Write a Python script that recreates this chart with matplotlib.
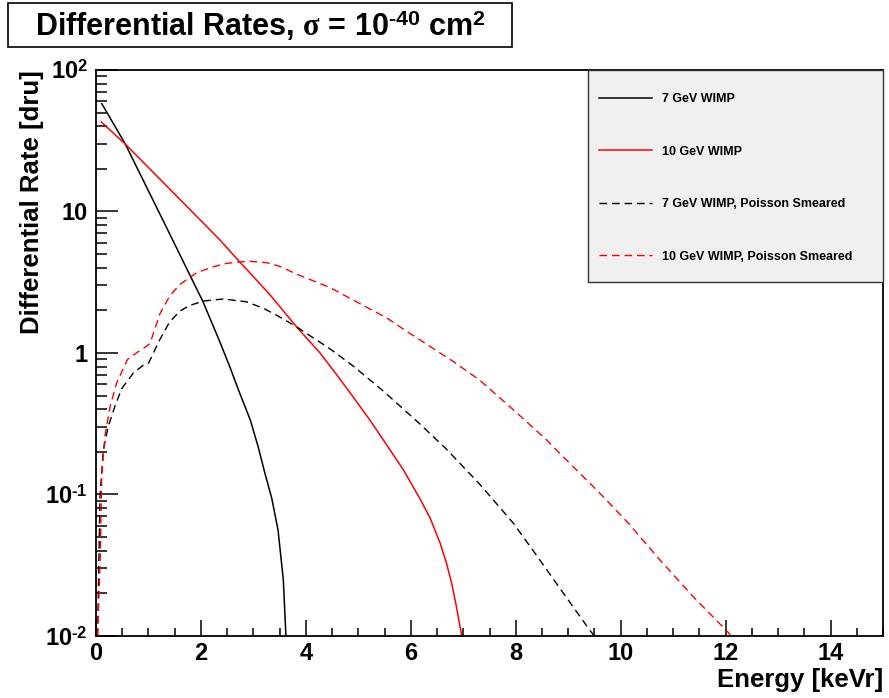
import matplotlib
matplotlib.use("Agg")
import matplotlib.pyplot as plt
from matplotlib.patches import Rectangle
from matplotlib.ticker import FixedLocator, MultipleLocator, LogLocator, NullFormatter

plt.rcParams['font.family'] = ['Liberation Sans', 'DejaVu Sans']
plt.rcParams['font.weight'] = 'bold'
plt.rcParams['mathtext.fontset'] = 'custom'
plt.rcParams['mathtext.rm'] = 'Liberation Sans:bold'
plt.rcParams['mathtext.bf'] = 'Liberation Sans:bold'
plt.rcParams['mathtext.it'] = 'Liberation Serif'

# recoil spectra, energy in keVr, rate in dru
e_7 = [0.11, 0.56, 1.33, 1.82, 2.04, 2.36, 2.55, 2.74, 2.94, 3.09, 3.22, 3.35, 3.47,
       3.57, 3.62]
r_7 = [57.8, 29.9, 7.9, 3.37, 2.3, 1.2, 0.8, 0.519, 0.337, 0.218, 0.141, 0.094, 0.056,
       0.025, 0.01]

e_10 = [0.1, 0.56, 2.1, 2.36, 2.74, 3.3, 3.83, 4.27, 4.59, 4.9, 5.22, 5.54, 5.86, 6.17,
        6.37, 6.56, 6.68, 6.78, 6.87, 6.97]
r_10 = [42.9, 29.9, 7.9, 6.3, 4.4, 2.62, 1.52, 1.0, 0.70, 0.49, 0.336, 0.224, 0.149,
        0.094, 0.068, 0.0452, 0.0327, 0.0235, 0.0161, 0.01]

e_7s = [0.03, 0.076, 0.14, 0.23, 0.36, 0.49, 0.71, 0.9, 1.0, 1.22, 1.4, 1.6, 1.79, 2.05,
        2.43, 2.87, 3.19, 3.44, 3.8, 4.46, 4.9, 5.48, 6.17, 6.68, 7.32, 7.95, 8.4, 8.78,
        9.41, 9.5]
r_7s = [0.01, 0.097, 0.206, 0.30, 0.42, 0.56, 0.72, 0.82, 0.845, 1.25, 1.65, 1.98, 2.17,
        2.33, 2.41, 2.3, 2.07, 1.85, 1.55, 1.07, 0.81, 0.537, 0.316, 0.209, 0.1175, 0.063,
        0.037, 0.0234, 0.011, 0.01]

e_10s = [0.03, 0.08, 0.11, 0.17, 0.27, 0.39, 0.6, 0.8, 0.97, 1.03, 1.22, 1.41, 1.6, 1.92,
         2.24, 2.49, 2.74, 2.93, 3.25, 3.5, 3.83, 4.46, 4.9, 5.54, 5.95, 6.17, 6.81, 7.32,
         7.95, 8.59, 8.87, 9.54, 10.15, 10.75, 11.38, 12.05, 12.1]
r_10s = [0.01, 0.035, 0.14, 0.26, 0.42, 0.61, 0.9, 1.02, 1.12, 1.17, 1.9, 2.55, 3.05, 3.7,
         4.07, 4.3, 4.4, 4.45, 4.35, 4.1, 3.6, 2.9, 2.37, 1.77, 1.40, 1.24, 0.87, 0.64,
         0.398, 0.243, 0.19, 0.108, 0.0625, 0.0344, 0.019, 0.0106, 0.01]

labels = ["7 GeV WIMP", "10 GeV WIMP", "7 GeV WIMP, Poisson Smeared",
          "10 GeV WIMP, Poisson Smeared"]
ytick_vals = [0.01, 0.1, 1, 10, 100]
ytick_text = [r"$10^{\text{-2}}$", r"$10^{\text{-1}}$", "1", "10", "$10^{2}$"]
xtick_vals = [0, 2, 4, 6, 8, 10, 12, 14]

W, H = 889, 698
fig = plt.figure(figsize=(W / 100, H / 100), dpi=100)
ax = fig.add_axes([96 / W, 1 - 636 / H, 787 / W, 566 / H])

dash = (5.5, 3.5)
ax.plot(e_7, r_7, color='black', lw=1.1, label=labels[0])
ax.plot(e_10, r_10, color='red', lw=1.1, label=labels[1])
ax.plot(e_7s, r_7s, color='black', lw=1.0, dashes=dash, label=labels[2])
ax.plot(e_10s, r_10s, color='red', lw=1.0, dashes=dash, label=labels[3])

ax.set_yscale('log')
ax.set_xlim(0, 15)
ax.set_ylim(0.01, 100)

ax.xaxis.set_major_locator(FixedLocator(xtick_vals))
ax.xaxis.set_minor_locator(MultipleLocator(0.5))
ax.set_xticklabels([str(v) for v in xtick_vals])
ax.set_yticks(ytick_vals)
ax.set_yticklabels(ytick_text)
ax.yaxis.set_minor_locator(LogLocator(base=10, subs=range(2, 10)))
ax.yaxis.set_minor_formatter(NullFormatter())

ax.tick_params(axis='x', which='major', direction='in', length=11.5, width=1.1,
               labelsize=17, pad=4, top=False)
ax.tick_params(axis='x', which='minor', direction='in', length=5.8, width=1.1, top=False)
ax.tick_params(axis='y', which='major', direction='in', length=16, width=1.1,
               labelsize=17, pad=6, right=False)
ax.tick_params(axis='y', which='minor', direction='in', length=8, width=1.1, right=False)
for s in ax.spines.values():
    s.set_linewidth(1.3)

fig.text(32 / W, 1 - 70 / H, "Differential Rate [dru]", rotation=90, ha='center',
         va='top', fontsize=18.5, fontweight='bold')
fig.text(883 / W, 1 - 687 / H, "Energy [keVr]", ha='right', va='baseline',
         fontsize=18.5, fontweight='bold')

# legend box drawn separately so it can be larger than its contents
ax.add_patch(Rectangle((0.6252, 0.6254), 0.3748, 0.3746, transform=ax.transAxes,
                       facecolor='#f0f0f0', edgecolor='#333333', lw=1.0, zorder=4.5,
                       clip_on=False))
leg = ax.legend(loc='upper left', bbox_to_anchor=(0.6252, 0.979), borderaxespad=0,
                fontsize=9, frameon=False, borderpad=0.88,
                labelspacing=3.25, handlelength=4.2, handletextpad=0.85)
for t in leg.get_texts():
    t.set_fontweight('bold')

fig.patches.append(Rectangle((7.5 / W, 1 - 47 / H), 504.5 / W, 44 / H,
                             transform=fig.transFigure, facecolor='white',
                             edgecolor='black', lw=1.2))
fig.text(260 / W, 1 - 25.5 / H,
         r"Differential Rates, $\sigma$ = 10$^{\text{-40}}$ cm$^{2}$",
         ha='center', va='center', fontsize=22, fontweight='bold')

fig.savefig("out.png", dpi=100)
